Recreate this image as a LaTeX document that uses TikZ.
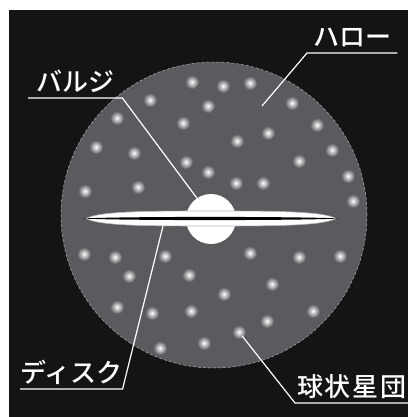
\documentclass[tikz,border=0pt]{standalone}
\usepackage{fontspec}
\newfontfamily\jp{Noto Sans CJK JP Medium}
\newfontfamily\jpwide[LetterSpace=6]{Noto Sans CJK JP Medium}
\definecolor{bg}{RGB}{20,20,20}
\definecolor{halofill}{RGB}{90,90,95}
\definecolor{haloedge}{RGB}{175,175,178}

\begin{document}
\begin{tikzpicture}[x=1pt,y=-1pt]

\tikzset{lbl/.style = {text=white, font=\jp\fontsize{26}{26}\selectfont, inner xsep=0pt, inner ysep=6pt, text depth=0pt, anchor=south west}}
\tikzset{leader/.style = {draw=white, line width=1.2pt}}
\tikzset{cluster/.style = {inner color=white, outer color=halofill}}

\useasboundingbox (0,0) rectangle (408,417);
\fill[white] (0,0) rectangle (408,417);
\fill[bg] (9,10) rectangle (408,417);

%halo
\node[circle, fill=halofill, draw=haloedge, densely dashed, line width=0.5pt, minimum size=306pt, inner sep=0] (halo) at (214,215) {};

%globular clusters
\foreach \x/\y [count=\i] in {192/82, 223/86, 250/83, 150/100, 208/106, 292/103, 117/118, 183/123, 317/125, 237/141, 268/133,
  96/147, 134/153, 332/150, 186/162, 299/161, 208/172, 348/176, 85/191, 138/187, 236/183, 263/183, 353/201,
  84/254, 115/257, 165/256, 250/253, 299/257, 340/256, 129/276, 189/275, 272/284,
  224/294, 117/307, 152/313, 191/311, 313/311, 267/321, 239/332, 160/348, 204/343}
{
  \coordinate (gc\i) at (\x,\y);
  \shade[cluster] (gc\i) circle (7);
}

%bulge and disk
\node[circle, fill=white, minimum size=50pt, inner sep=0] (bulge) at (211,219) {};
\fill[white, draw=gray!55, line width=0.6pt] (86,218.5) .. controls (100,211.5) and (140,211) .. (211,211)
  .. controls (282,211) and (322,211.5) .. (336,218.5)
  .. controls (322,225.5) and (282,226) .. (211,226)
  .. controls (140,226) and (100,225.5) .. (86,218.5) -- cycle;
\fill[black] (83,218.5) .. controls (120,216.4) and (300,216.4) .. (339,218.5)
  .. controls (300,220.6) and (120,220.6) .. (83,218.5) -- cycle;
\coordinate (diskPt) at (163,226);
\coordinate (haloPt) at (262,106);

%labels
\node[lbl, minimum width=90pt] (haloText) at (307,53) {ハロー};
\node[lbl, minimum width=94pt] (bulgeText) at (28,98) {バルジ};
\node[lbl, minimum width=100pt] (diskText) at (20,389) {ディスク};
\node[lbl, minimum width=113pt, font=\jpwide\fontsize{26}{26}\selectfont] (gcText) at (295,403) {球状星団};

\draw[leader] (haloPt) -- (haloText.south west) -- (haloText.south east);
\draw[leader] (bulge.124) -- (bulgeText.south east) -- (bulgeText.south west);
\draw[leader] (diskPt) -- (diskText.south east) -- (diskText.south west);
\draw[leader, shorten <=5pt] (gc39) -- (gcText.south west) -- (gcText.south east);

\end{tikzpicture}
\end{document}
